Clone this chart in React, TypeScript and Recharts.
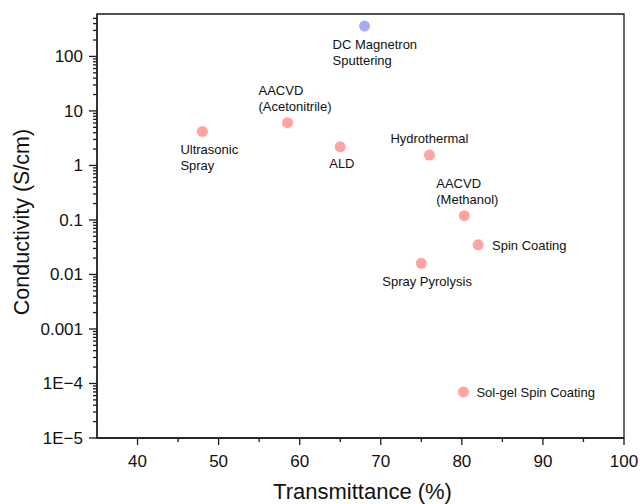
import React from 'react';
import { ScatterChart, Scatter, XAxis, YAxis, ReferenceArea } from 'recharts';

// ---- data ----
const methods = [
  'Ultrasonic Spray',
  'AACVD (Acetonitrile)',
  'ALD',
  'Hydrothermal',
  'AACVD (Methanol)',
  'Spin Coating',
  'Spray Pyrolysis',
  'Sol-gel Spin Coating',
];
const transmittance = [48, 58.5, 65, 76, 80.3, 82, 75, 80.2];
const conductivity = [4.2, 6.1, 2.2, 1.55, 0.12, 0.035, 0.016, 7e-5];

const sputterMethods = ['DC Magnetron Sputtering'];
const sputterTransmittance = [68];
const sputterConductivity = [360];

const xMajorTicks = [40, 50, 60, 70, 80, 90, 100];
const xMinorTicks = [45, 55, 65, 75, 85, 95];
const yMajorTicks = [1e-5, 1e-4, 0.001, 0.01, 0.1, 1, 10, 100];
const yTickLabels = ['1E\u22125', '1E\u22124', '0.001', '0.01', '0.1', '1', '10', '100'];
const yMinorMultipliers = [2, 3, 4, 5, 6, 7, 8, 9];

// ---- layout (label placement) ----
const labelLayout: Record<string, { lines: string[]; dx: number; dy: number[] }> = {
  'DC Magnetron Sputtering': { lines: ['DC Magnetron', 'Sputtering'], dx: -32, dy: [18, 34] },
  'Ultrasonic Spray': { lines: ['Ultrasonic', 'Spray'], dx: -22, dy: [18, 34] },
  'AACVD (Acetonitrile)': { lines: ['AACVD', '(Acetonitrile)'], dx: -29, dy: [-32, -16] },
  ALD: { lines: ['ALD'], dx: -11, dy: [17] },
  Hydrothermal: { lines: ['Hydrothermal'], dx: -39, dy: [-17] },
  'AACVD (Methanol)': { lines: ['AACVD', '(Methanol)'], dx: -28, dy: [-32, -16] },
  'Spin Coating': { lines: ['Spin Coating'], dx: 14, dy: [0] },
  'Spray Pyrolysis': { lines: ['Spray Pyrolysis'], dx: -39, dy: [18] },
  'Sol-gel Spin Coating': { lines: ['Sol-gel Spin Coating'], dx: 13, dy: [0] },
};

const FONT = '"Liberation Sans", Arial, Helvetica, sans-serif';
const AXIS = '#1a1a1a';
const PINK = '#ffa3a3';
const LAVENDER = '#aaaaf5';

const mainData = methods.map((name, i) => ({ name, x: transmittance[i], y: conductivity[i] }));
const sputterData = sputterMethods.map((name, i) => ({
  name,
  x: sputterTransmittance[i],
  y: sputterConductivity[i],
}));

const yMinorTicks: number[] = [];
yMajorTicks.forEach((d) => {
  yMinorMultipliers.forEach((m) => {
    const v = d * m;
    if (v < 600) yMinorTicks.push(v);
  });
});
const yAllTicks = [...yMajorTicks, ...yMinorTicks].sort((a, b) => a - b);
const xAllTicks = [...xMajorTicks, ...xMinorTicks].sort((a, b) => a - b);

const majorIndex = (v: number) => yMajorTicks.findIndex((t) => Math.abs(t - v) / t < 1e-6);

const YTick = (props: any) => {
  const { x, y, payload } = props;
  const idx = majorIndex(payload.value);
  const major = idx >= 0;
  return (
    <g>
      <line x1={x} x2={x - (major ? 8 : 4)} y1={y} y2={y} stroke={AXIS} strokeWidth={1.3} />
      {major && (
        <text x={x - 14} y={y + 6} textAnchor="end" fontSize={17} fontFamily={FONT} fill="#111">
          {yTickLabels[idx]}
        </text>
      )}
    </g>
  );
};

const XTick = (props: any) => {
  const { x, y, payload } = props;
  const v = payload.value;
  const major = xMajorTicks.includes(v);
  return (
    <g>
      <line x1={x} x2={x} y1={y} y2={y + (major ? 7 : 4)} stroke={AXIS} strokeWidth={1.3} />
      {major && (
        <text x={x} y={y + 29} textAnchor="middle" fontSize={17} fontFamily={FONT} fill="#111">
          {v}
        </text>
      )}
    </g>
  );
};

const makeShape = (color: string) => (props: any) => {
  const { cx, cy, payload } = props;
  const lay = labelLayout[payload.name];
  return (
    <g>
      <circle cx={cx} cy={cy} r={5.5} fill={color} />
      {lay &&
        lay.lines.map((line, i) => (
          <text
            key={i}
            x={cx + lay.dx}
            y={cy + lay.dy[i] + 4.7}
            fontSize={13}
            fontFamily={FONT}
            fill="#111"
          >
            {line}
          </text>
        ))}
    </g>
  );
};

const XTitle = (props: any) => {
  const vb = props.viewBox;
  return (
    <text
      x={vb.x + vb.width / 2 + 2}
      y={vb.y + 61}
      textAnchor="middle"
      fontSize={22}
      fontFamily={FONT}
      fill="#111"
    >
      Transmittance (%)
    </text>
  );
};

const YTitle = (props: any) => {
  const vb = props.viewBox;
  const cx = vb.x + 22;
  const cy = vb.y + vb.height / 2 - 4;
  return (
    <text
      x={cx}
      y={cy}
      transform={`rotate(-90, ${cx}, ${cy})`}
      textAnchor="middle"
      dominantBaseline="central"
      fontSize={21.5}
      fontFamily={FONT}
      fill="#111"
    >
      Conductivity (S/cm)
    </text>
  );
};

export default function App() {
  return (
    <div style={{ position: 'absolute', left: 0, top: 0, width: 640, height: 504, background: '#fff' }}>
      <ScatterChart width={640} height={504} margin={{ top: 14, right: 16, left: 0, bottom: 0 }}>
        <XAxis
          dataKey="x"
          type="number"
          domain={[35, 100]}
          allowDataOverflow
          ticks={xAllTicks}
          interval={0}
          tickLine={false}
          tickSize={0}
          tickMargin={0}
          height={66}
          axisLine={{ stroke: AXIS, strokeWidth: 1.3 }}
          tick={XTick}
          label={XTitle}
        />
        <YAxis
          dataKey="y"
          type="number"
          scale="log"
          domain={[1e-5, 600]}
          allowDataOverflow
          ticks={yAllTicks}
          interval={0}
          tickLine={false}
          tickSize={0}
          tickMargin={0}
          width={97}
          axisLine={{ stroke: AXIS, strokeWidth: 1.3 }}
          tick={YTick}
          label={YTitle}
        />
        <ReferenceArea
          x1={35}
          x2={100}
          y1={1e-5}
          y2={600}
          fill="none"
          fillOpacity={0}
          stroke={AXIS}
          strokeWidth={1.3}
        />
        <Scatter data={mainData} shape={makeShape(PINK)} isAnimationActive={false} />
        <Scatter data={sputterData} shape={makeShape(LAVENDER)} isAnimationActive={false} />
      </ScatterChart>
    </div>
  );
}
